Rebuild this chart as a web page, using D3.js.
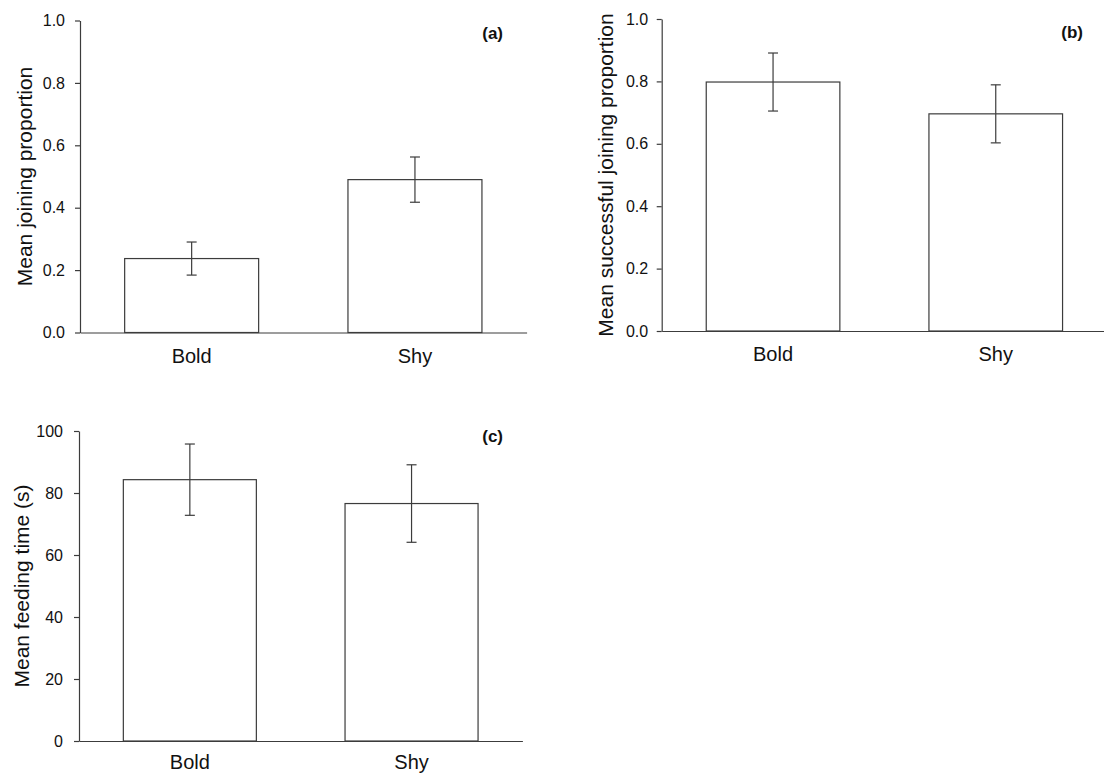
<!DOCTYPE html>
<html>
<head>
<meta charset="utf-8">
<script src="https://cdn.jsdelivr.net/npm/d3@7"></script>
<style>
  html, body { margin: 0; padding: 0; background: #fff; }
  svg { display: block; font-family: "Liberation Sans", Arial, Helvetica, sans-serif; }
</style>
</head>
<body>
<svg id="fig" width="1104" height="773"></svg>
<script>
// Categories shared by all three panels
const categories = ["Bold", "Shy"];

// (a) Mean joining proportion with standard error
const joiningMean = [0.237, 0.490];
const joiningErr  = [0.053, 0.0725];

// (b) Mean successful joining proportion with standard error
const successMean = [0.798, 0.696];
const successErr  = [0.093, 0.093];

// (c) Mean feeding time (s) with standard error
const feedingMean = [84.3, 76.6];
const feedingErr  = [11.5, 12.5];

// Y-axis tick values
const proportionTicks = [0, 0.2, 0.4, 0.6, 0.8, 1.0];
const feedingTicks = [0, 20, 40, 60, 80, 100];

const panels = [
  { tag: "(a)", title: "Mean joining proportion", means: joiningMean, errs: joiningErr,
    domain: [0, 1], ticks: proportionTicks, fmt: d3.format(".1f"),
    x0: 80, step: 223.3, top: 20.5, bottom: 332.5, titleX: 32, tagX: 503, tagY: 38.5, pad: 10, xPad: 16 },
  { tag: "(b)", title: "Mean successful joining proportion", means: successMean, errs: successErr,
    domain: [0, 1], ticks: proportionTicks, fmt: d3.format(".1f"),
    x0: 661.7, step: 222.7, top: 19, bottom: 331, titleX: 613, tagX: 1083, tagY: 38, pad: 8.5, xPad: 16 },
  { tag: "(c)", title: "Mean feeding time (s)", means: feedingMean, errs: feedingErr,
    domain: [0, 100], ticks: feedingTicks, fmt: d3.format("d"),
    x0: 79, step: 221.7, top: 431, bottom: 741, titleX: 28.5, tagX: 503, tagY: 441.5, pad: 11, xPad: 13.5 }
];

const ink = "#3c3c3c";
const svg = d3.select("#fig");

panels.forEach(p => {
  const g = svg.append("g");

  const x = d3.scaleBand()
    .domain(categories)
    .range([p.x0, p.x0 + 2 * p.step])
    .paddingInner(0.4)
    .paddingOuter(0.2);

  const y = d3.scaleLinear().domain(p.domain).range([p.bottom, p.top]);

  // Bars
  g.selectAll("rect.bar")
    .data(categories)
    .join("rect")
    .attr("class", "bar")
    .attr("x", d => x(d))
    .attr("width", x.bandwidth())
    .attr("y", (d, i) => y(p.means[i]))
    .attr("height", (d, i) => y(p.domain[0]) - y(p.means[i]))
    .attr("fill", "#fff")
    .attr("stroke", ink)
    .attr("stroke-width", 1.2);

  // Error bars with caps
  const eb = g.selectAll("g.err")
    .data(categories)
    .join("g")
    .attr("class", "err")
    .attr("stroke", ink)
    .attr("stroke-width", 1.2);
  const cx = d => x(d) + x.bandwidth() / 2;
  eb.append("line")
    .attr("x1", cx).attr("x2", cx)
    .attr("y1", (d, i) => y(p.means[i] + p.errs[i]))
    .attr("y2", (d, i) => y(p.means[i] - p.errs[i]));
  eb.append("line")
    .attr("x1", d => cx(d) - 5).attr("x2", d => cx(d) + 5)
    .attr("y1", (d, i) => y(p.means[i] + p.errs[i]))
    .attr("y2", (d, i) => y(p.means[i] + p.errs[i]));
  eb.append("line")
    .attr("x1", d => cx(d) - 5).attr("x2", d => cx(d) + 5)
    .attr("y1", (d, i) => y(p.means[i] - p.errs[i]))
    .attr("y2", (d, i) => y(p.means[i] - p.errs[i]));

  // Y axis
  const yAxis = g.append("g")
    .attr("transform", `translate(${p.x0},0)`)
    .call(d3.axisLeft(y).tickValues(p.ticks).tickFormat(p.fmt).tickSize(5).tickPadding(p.pad).tickSizeOuter(0));
  yAxis.selectAll("text").attr("font-size", 16).attr("fill", "#111").attr("font-family", null);
  yAxis.selectAll("line").attr("stroke", ink).attr("stroke-width", 1.2);
  yAxis.select(".domain").attr("stroke", ink).attr("stroke-width", 1.2);

  // X axis
  const xAxis = g.append("g")
    .attr("transform", `translate(0,${p.bottom})`)
    .call(d3.axisBottom(x).tickSize(0).tickPadding(p.xPad).tickSizeOuter(0));
  xAxis.selectAll("text").attr("font-size", 20).attr("fill", "#111").attr("font-family", null);
  xAxis.select(".domain").attr("stroke", ink).attr("stroke-width", 1.2);

  // Y axis title
  g.append("text")
    .attr("transform", `translate(${p.titleX},${(p.top + p.bottom) / 2}) rotate(-90)`)
    .attr("text-anchor", "middle")
    .attr("font-size", 21)
    .attr("fill", "#111")
    .text(p.title);

  // Panel tag
  g.append("text")
    .attr("x", p.tagX)
    .attr("y", p.tagY)
    .attr("text-anchor", "end")
    .attr("font-size", 17)
    .attr("font-weight", "bold")
    .attr("fill", "#111")
    .text(p.tag);
});
</script>
</body>
</html>
